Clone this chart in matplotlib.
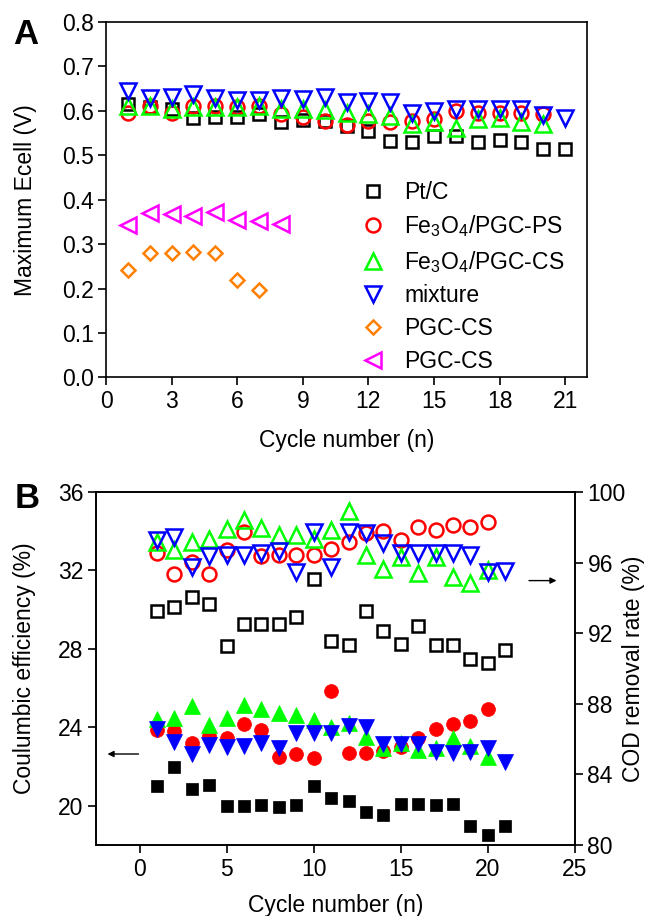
import numpy as np
import matplotlib
matplotlib.use('Agg')
from matplotlib import pyplot as plt

plt.rcParams['font.family'] = ['Liberation Sans', 'DejaVu Sans']
plt.rcParams['mathtext.fontset'] = 'custom'
plt.rcParams['mathtext.rm'] = 'Liberation Sans'
plt.rcParams['mathtext.it'] = 'Liberation Sans:italic'
FS = 16.5

# ---- panel A: maximum cell voltage per cycle
ecell_ptc = [0.615, 0.608, 0.604, 0.583, 0.587, 0.587, 0.594, 0.574, 0.580, 0.577, 0.565,
             0.555, 0.532, 0.529, 0.544, 0.544, 0.529, 0.535, 0.529, 0.515, 0.515]
ecell_ps = [0.596, 0.611, 0.596, 0.611, 0.611, 0.608, 0.611, 0.592, 0.587, 0.577,
            0.568, 0.577, 0.574, 0.577, 0.581, 0.600, 0.596, 0.596, 0.596, 0.592]
ecell_cs = [0.611, 0.611, 0.604, 0.608, 0.608, 0.608, 0.610, 0.604, 0.605, 0.602,
            0.596, 0.592, 0.589, 0.570, 0.574, 0.562, 0.581, 0.585, 0.575, 0.570]
ecell_mix = [0.645, 0.630, 0.632, 0.638, 0.628, 0.625, 0.625, 0.628, 0.626, 0.632, 0.619,
             0.623, 0.619, 0.596, 0.600, 0.604, 0.604, 0.605, 0.605, 0.590, 0.585]
ecell_pgc = [0.241, 0.281, 0.280, 0.283, 0.280, 0.219, 0.196]
ecell_pgc2 = [0.343, 0.370, 0.367, 0.363, 0.373, 0.355, 0.352, 0.345]

labels_a = ['Pt/C', r'Fe$_3$O$_4$/PGC-PS', r'Fe$_3$O$_4$/PGC-CS', 'mixture', 'PGC-CS', 'PGC-CS']

# ---- panel B: coulombic efficiency (filled) and COD removal (open)
ce_ptc = [21.02, 22.0, 20.85, 21.05, 19.97, 20.0, 20.05, 19.92, 20.05, 21.03, 20.42,
          20.22, 19.66, 19.54, 20.08, 20.08, 20.03, 20.08, 18.98, 18.53, 18.98]
ce_ps = [23.86, 23.83, 23.22, 23.56, 23.44, 24.17, 23.86, 22.5, 22.63, 22.46,
         25.86, 22.68, 22.68, 22.81, 23.01, 23.44, 23.9, 24.17, 24.34, 24.96]
ce_cs = [24.4, 24.5, 25.08, 24.12, 24.5, 25.13, 24.93, 24.74, 24.62, 24.37,
         24.03, 24.2, 23.52, 22.93, 23.19, 22.85, 22.93, 23.44, 23.05, 22.5]
ce_mix = [23.9, 23.27, 22.64, 23.1, 23.01, 23.05, 23.19, 22.93, 23.69, 23.7, 23.69,
          24.07, 24.03, 23.15, 23.15, 23.13, 22.76, 22.71, 22.76, 22.93, 22.25]

cod_ptc = [93.23, 93.51, 94.07, 93.64, 91.30, 92.53, 92.53, 92.53, 92.9, 95.06, 91.53,
           91.32, 93.23, 92.15, 91.40, 92.42, 91.34, 91.34, 90.53, 90.30, 91.06]
cod_ps = [96.57, 95.36, 96.06, 95.36, 96.72, 97.72, 96.38, 96.43, 96.43, 96.43,
          96.76, 97.19, 97.66, 97.79, 97.28, 98.0, 97.85, 98.13, 98.0, 98.32]
cod_cs = [97.19, 96.72, 97.19, 97.32, 97.89, 98.42, 97.94, 97.57, 97.57, 97.32,
          97.86, 98.94, 96.43, 95.62, 96.34, 95.43, 96.34, 95.21, 94.87, 95.59]
cod_mix = [97.28, 97.43, 95.77, 96.38, 96.43, 96.43, 96.53, 96.68, 95.49, 97.75, 95.77,
           97.75, 97.66, 97.13, 96.57, 96.53, 96.53, 96.57, 96.43, 95.49, 95.55]

colors = ['black', 'red', '#00ff00', 'blue', '#ff8000', '#ff00ff']
markers = ['s', 'o', '^', 'v', 'D', '<']
sizes = [9, 10, 11, 11, 7.5, 11]


def cycles(v):
    return np.arange(1, len(v) + 1)


def style_axes(ax):
    for sp in ax.spines.values():
        sp.set_linewidth(1.2)
    ax.tick_params(direction='out', length=6, width=1.2, labelsize=FS, pad=3)


fig = plt.figure(figsize=(6.52, 9.16), dpi=100)

# panel A
ax = fig.add_axes([0.1626, 0.5879, 0.7377, 0.3881])
series_a = [ecell_ptc, ecell_ps, ecell_cs, ecell_mix, ecell_pgc, ecell_pgc2]
for v, c, m, s, lab in zip(series_a, colors, markers, sizes, labels_a):
    ax.plot(cycles(v), v, ls='none', marker=m, ms=s, mfc='none', mec=c, mew=1.8, label=lab)
ax.set_xlim(0, 22)
ax.set_ylim(0, 0.8)
ax.set_xticks(np.arange(0, 22, 3))
ax.set_yticks(np.arange(0, 0.81, 0.1))
ax.yaxis.set_major_formatter(matplotlib.ticker.FormatStrFormatter('%.1f'))
style_axes(ax)
ax.set_xlabel('Cycle number (n)', fontsize=FS)
ax.xaxis.set_label_coords(0.5, -0.145)
ax.set_ylabel('Maximum Ecell (V)', fontsize=FS)
ax.yaxis.set_label_coords(-0.143, 0.5)
ax.legend(loc='lower left', bbox_to_anchor=(0.51, -0.012), frameon=False,
          fontsize=FS, handletextpad=0.8, labelspacing=0.42, borderaxespad=0,
          handlelength=1.1)
fig.text(0.04, 0.962, 'A', fontsize=25, fontweight='bold', ha='center', va='center')

# panel B
bx = fig.add_axes([0.1472, 0.0775, 0.7347, 0.3854])
bx2 = bx.twinx()
series_ce = [ce_ptc, ce_ps, ce_cs, ce_mix]
series_cod = [cod_ptc, cod_ps, cod_cs, cod_mix]
for v, c, m, s in zip(series_cod, colors, markers, sizes):
    bx2.plot(cycles(v), v, ls='none', marker=m, ms=s, mfc='none', mec=c, mew=1.8)
for v, c, m, s in zip(series_ce, colors, markers, sizes):
    bx.plot(cycles(v), v, ls='none', marker=m, ms=s, mfc=c, mec=c, mew=0.5)
bx.set_xlim(-2.5, 25)
bx.set_ylim(18, 36)
bx2.set_ylim(80, 100)
bx.set_xticks(np.arange(0, 26, 5))
bx.set_yticks(np.arange(20, 37, 4))
bx2.set_yticks(np.arange(80, 101, 4))
style_axes(bx)
style_axes(bx2)
bx.set_xlabel('Cycle number (n)', fontsize=FS)
bx.xaxis.set_label_coords(0.5, -0.138)
bx.set_ylabel('Coulumbic efficiency (%)', fontsize=FS)
bx.yaxis.set_label_coords(-0.125, 0.5)
bx2.set_ylabel('COD removal rate (%)', fontsize=FS)
bx2.yaxis.set_label_coords(1.098, 0.5)

# arrows pointing at the matching axis
bx.annotate('', xy=(-2.0, 22.64), xytext=(0.1, 22.64),
            arrowprops=dict(arrowstyle='-|>', color='k', lw=1, mutation_scale=9))
bx2.annotate('', xy=(24.1, 94.98), xytext=(22.2, 94.98),
             arrowprops=dict(arrowstyle='-|>', color='k', lw=1, mutation_scale=9))
fig.text(0.042, 0.456, 'B', fontsize=25, fontweight='bold', ha='center', va='center')

fig.savefig('out.png', dpi=100)
